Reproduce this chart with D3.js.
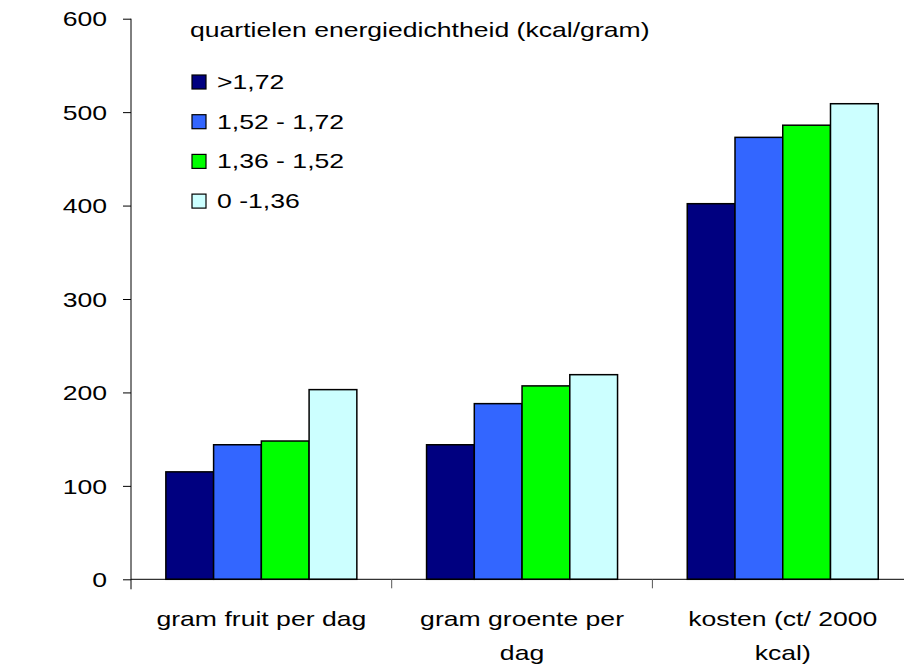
<!DOCTYPE html>
<html>
<head>
<meta charset="utf-8">
<script src="https://cdn.jsdelivr.net/npm/d3@7"></script>
<style>
  body { margin: 0; background: #ffffff; }
  text { font-family: "Liberation Sans", Arial, sans-serif; fill: #000000; }
</style>
</head>
<body>
<div id="chart"></div>
<script>
const categories = ["gram fruit per dag", "gram groente per dag", "kosten (ct/ 2000 kcal)"];
const seriesNames = [">1,72", "1,52 - 1,72", "1,36 - 1,52", "0 -1,36"];
const seriesColors = ["#000080", "#3366ff", "#00ff00", "#ccffff"];
const highValues = [115, 144, 402];    // >1,72
const midHighValues = [144, 188, 473]; // 1,52 - 1,72
const midLowValues = [148, 207, 486];  // 1,36 - 1,52
const lowValues = [203, 219, 509];     // 0 -1,36
const yTicks = [0, 100, 200, 300, 400, 500, 600];
const legendTitle = "quartielen energiedichtheid (kcal/gram)";

const seriesValues = [highValues, midHighValues, midLowValues, lowValues];

const width = 904, height = 668;
const left = 131, zeroY = 579.3, topY = 18.7, step = 260.7;
// the original text is drawn wide, so stretch it sideways
const SX = 1.33;

const svg = d3.select("#chart").append("svg")
    .attr("width", width)
    .attr("height", height);

// move a text's x into a transform so it can be stretched round its anchor
function stretch(sel) {
    sel.each(function() {
        const t = d3.select(this);
        const x = +t.attr("x") || 0;
        const y = +t.attr("y") || 0;
        t.attr("x", 0).attr("y", 0)
         .attr("transform", `translate(${x},${y}) scale(${SX},1)`);
    });
}

const y = d3.scaleLinear().domain([0, 600]).range([zeroY, topY]);

const x0 = d3.scaleBand()
    .domain(categories)
    .range([left, left + step * categories.length])
    .padding(0);

const x1 = d3.scaleBand()
    .domain(seriesNames)
    .range([0, x0.bandwidth()])
    .paddingInner(0)
    .paddingOuter(0.73);

// bars
const groups = svg.append("g").selectAll("g")
    .data(categories)
    .join("g")
    .attr("transform", d => `translate(${x0(d)},0)`);

groups.selectAll("rect")
    .data((c, ci) => seriesNames.map((s, si) => ({s, si, v: seriesValues[si][ci]})))
    .join("rect")
    .attr("x", d => x1(d.s))
    .attr("y", d => y(d.v))
    .attr("width", x1.bandwidth())
    .attr("height", d => zeroY - y(d.v))
    .style("fill", d => seriesColors[d.si])
    .style("stroke", "#000000")
    .style("stroke-width", 1.5);

// y axis
const yaxis = d3.axisLeft(y).tickValues(yTicks).tickSize(8).tickPadding(16);
const gy = svg.append("g")
    .attr("transform", `translate(${left},0)`)
    .call(yaxis);
gy.selectAll("text")
    .style("font-size", "20px")
    .style("font-family", "'Liberation Sans', Arial, sans-serif")
    .attr("dy", "0.36em")
    .call(stretch);
gy.select(".domain").style("stroke", "#000000").attr("d", `M0,${topY}V${zeroY + 10}`);
gy.selectAll(".tick line").style("stroke", "#000000");

// x axis
svg.append("line")
    .attr("x1", left).attr("x2", width)
    .attr("y1", zeroY).attr("y2", zeroY)
    .style("stroke", "#000000");

svg.append("g").selectAll("line")
    .data(categories.slice(1))
    .join("line")
    .attr("x1", d => x0(d)).attr("x2", d => x0(d))
    .attr("y1", zeroY).attr("y2", zeroY + 9)
    .style("stroke", "#555555");

// category labels, wrapped
const labels = svg.append("g").selectAll("text")
    .data(categories)
    .join("text")
    .attr("transform", d => `translate(${x0(d) + x0.bandwidth() / 2},626) scale(${SX},1)`)
    .attr("text-anchor", "middle")
    .style("font-size", "20px");

labels.each(function(d) {
    const t = d3.select(this);
    const words = d.split(" ");
    let line = [];
    let tspan = t.append("tspan").attr("x", 0).attr("dy", 0);
    words.forEach(w => {
        line.push(w);
        tspan.text(line.join(" "));
        if (tspan.node().getComputedTextLength() * SX > 225 && line.length > 1) {
            line.pop();
            tspan.text(line.join(" "));
            line = [w];
            tspan = t.append("tspan").attr("x", 0).attr("dy", 34).text(w);
        }
    });
});

// legend
svg.append("text")
    .attr("x", 190)
    .attr("y", 37)
    .style("font-size", "20px")
    .text(legendTitle)
    .call(stretch);

const legend = svg.append("g").selectAll("g")
    .data(seriesNames)
    .join("g")
    .attr("transform", (d, i) => `translate(192,${82 + i * 39.7})`);

legend.append("rect")
    .attr("x", 0).attr("y", -7)
    .attr("width", 14).attr("height", 14)
    .style("fill", (d, i) => seriesColors[i])
    .style("stroke", "#000000")
    .style("stroke-width", 1.2);

legend.append("text")
    .attr("x", 25)
    .attr("y", 7)
    .style("font-size", "20px")
    .text(d => d)
    .call(stretch);
</script>
</body>
</html>
